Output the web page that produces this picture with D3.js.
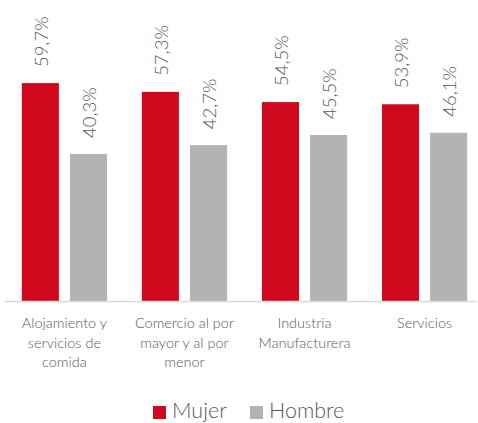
<!DOCTYPE html>
<html lang="es">
<head>
    <meta charset="UTF-8">
    <title>Mujer / Hombre por sector</title>
    <script src="https://d3js.org/d3.v7.min.js"></script>
    <style>
        body {
            margin: 0;
            padding: 0;
            background: #fff;
            font-family: Lato, "Open Sans", sans-serif;
        }
        .value {
            font-size: 18.5px;
            font-weight: 300;
            fill: #595959;
        }
        .cat {
            font-size: 14.5px;
            font-weight: 300;
            fill: #595959;
        }
        .legend text {
            font-size: 21.5px;
            font-weight: 300;
            fill: #595959;
        }
    </style>
</head>
<body>
    <svg width="478" height="423"></svg>
    <script>
        // Data
        const categories = [
            "Alojamiento y servicios de comida",
            "Comercio al por mayor y al por menor",
            "Industria Manufacturera",
            "Servicios"
        ];
        const series = ["Mujer", "Hombre"];
        const mujer = [59.7, 57.3, 54.5, 53.9];
        const hombre = [40.3, 42.7, 45.5, 46.1];
        const colors = ["#d0091e", "#b3b3b3"];

        const svg = d3.select("svg");
        const baseY = 301;

        const x0 = d3.scaleBand()
            .domain(categories)
            .range([5, 484])
            .paddingInner(0.29)
            .paddingOuter(0.14);

        const x1 = d3.scaleBand()
            .domain(series)
            .range([0, x0.bandwidth()])
            .paddingInner(0.23);

        const y = d3.scaleLinear()
            .domain([0, 70])
            .range([baseY, baseY - 70 * 3.65]);

        const color = d3.scaleOrdinal().domain(series).range(colors);

        const rows = categories.map((c, i) => ({
            cat: c,
            values: [
                { key: "Mujer", v: mujer[i] },
                { key: "Hombre", v: hombre[i] }
            ]
        }));

        const groups = svg.append("g")
            .selectAll("g")
            .data(rows)
            .join("g")
            .attr("transform", d => `translate(${x0(d.cat)},0)`);

        groups.selectAll("rect")
            .data(d => d.values)
            .join("rect")
            .attr("x", d => x1(d.key))
            .attr("y", d => y(d.v))
            .attr("width", x1.bandwidth())
            .attr("height", d => baseY - y(d.v))
            .attr("fill", d => color(d.key));

        // value labels, rotated
        groups.selectAll("text.value")
            .data(d => d.values)
            .join("text")
            .attr("class", "value")
            .attr("transform", d => `translate(${x1(d.key) + x1.bandwidth() / 2 + 1},${y(d.v) - 16}) rotate(-90)`)
            .attr("dy", "0.35em")
            .attr("text-anchor", "start")
            .text(d => d.v.toFixed(1).replace(".", ",") + "%");

        // baseline
        svg.append("line")
            .attr("x1", 5)
            .attr("x2", 477)
            .attr("y1", baseY + 0.5)
            .attr("y2", baseY + 0.5)
            .attr("stroke", "#d9d9d9")
            .attr("stroke-width", 1.5);

        // category labels (wrapped)
        const catText = svg.append("g")
            .selectAll("text")
            .data(categories)
            .join("text")
            .attr("class", "cat")
            .attr("text-anchor", "middle")
            .attr("x", d => x0(d) + x0.bandwidth() / 2)
            .attr("y", 328)
            .text(d => d);

        catText.each(function (d) {
            const t = d3.select(this);
            const cx = +t.attr("x");
            const words = d.split(" ");
            t.text(null);
            let line = [];
            let tspan = t.append("tspan").attr("x", cx).attr("dy", 0);
            words.forEach(w => {
                line.push(w);
                tspan.text(line.join(" "));
                if (tspan.node().getComputedTextLength() > 112 && line.length > 1) {
                    line.pop();
                    tspan.text(line.join(" "));
                    line = [w];
                    tspan = t.append("tspan").attr("x", cx).attr("dy", 19.5).text(w);
                }
            });
        });

        // legend
        const legend = svg.append("g").attr("class", "legend");
        const items = [
            { key: "Mujer", x: 153 },
            { key: "Hombre", x: 250 }
        ];
        items.forEach(it => {
            legend.append("rect")
                .attr("x", it.x)
                .attr("y", 406)
                .attr("width", 13)
                .attr("height", 13)
                .attr("fill", color(it.key));
            legend.append("text")
                .attr("x", it.x + 19)
                .attr("y", 418)
                .text(it.key);
        });
    </script>
</body>
</html>
